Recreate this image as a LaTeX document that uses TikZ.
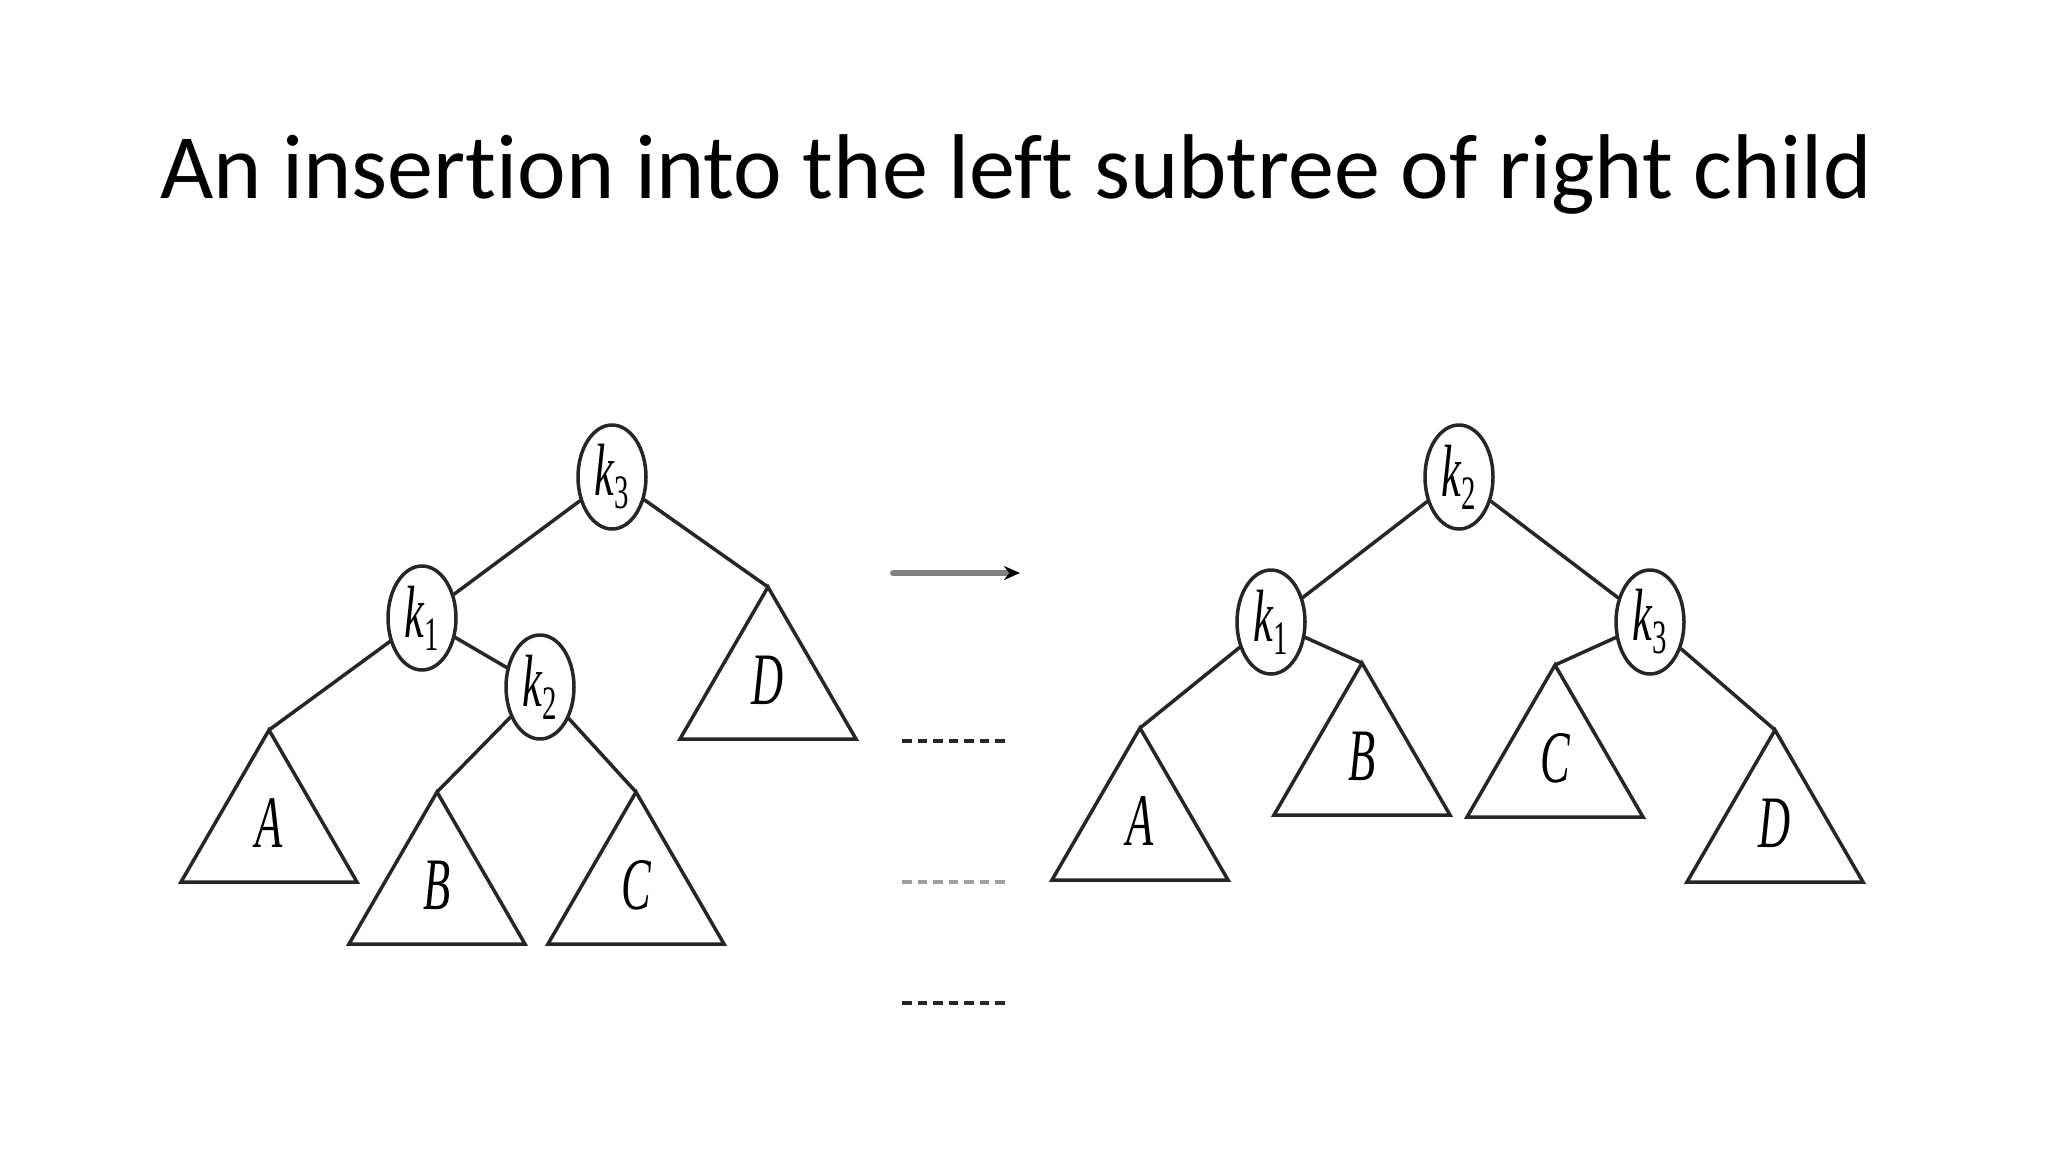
\documentclass[tikz,border=0pt]{standalone}
\usepackage{fontspec}
\usepackage{graphicx}
\setmainfont{Liberation Serif}
\newfontfamily\titlefont[Ligatures=NoCommon]{Carlito}
\usetikzlibrary{arrows.meta,shapes.geometric}

\newcommand{\narrow}[1]{\scalebox{0.6}[1]{#1}}
\newcommand{\kkey}[1]{\narrow{\fontsize{74}{74}\selectfont\itshape k\raisebox{-13pt}{\fontsize{48}{48}\selectfont\upshape #1}}}

\tikzset{
  key/.style={ellipse,draw=black!85,line width=3.5pt,minimum width=68pt,minimum height=104pt,inner sep=0pt},
  edge/.style={draw=black!85,line width=3.5pt},
  sublbl/.style={font=\fontsize{74}{74}\selectfont\itshape,inner sep=0pt}
}

% apex name, apex x, apex y, letter
\newcommand{\subtree}[4]{%
  \coordinate (#1) at (#2,#3);
  \draw[edge,line join=miter] (#1) -- ++(-88,152) -- ++(176,0) -- cycle;
  \node[sublbl] (#1l) at (#2,#3+93) {\narrow{#4}};
}

\begin{document}
\begin{tikzpicture}[x=1pt,y=-1pt,line cap=round]
\useasboundingbox (0,0) rectangle (2048,1152);

\node[font=\titlefont\fontsize{92}{110}\selectfont,anchor=base] (title) at (1016,198)
  {An insertion into the left subtree of right child};

% before
\node[key] (lk3) at (612,477) {\kkey{3}};
\node[key] (lk1) at (422,618) {\kkey{1}};
\node[key] (lk2) at (540,687) {\kkey{2}};
\subtree{lA}{269}{730}{A}
\subtree{lB}{437}{792}{B}
\subtree{lC}{636}{792}{C}
\subtree{lD}{768}{587}{D}
\draw[edge] (lk3) -- (lk1);
\draw[edge] (lk3) -- (lD);
\draw[edge] (lk1) -- (lA);
\draw[edge] (lk1) -- (lk2);
\draw[edge] (lk2) -- (lB);
\draw[edge] (lk2) -- (lC);

% arrow and dashes
\coordinate (arrS) at (893,573);
\coordinate (arrE) at (1020,573);
\draw[line width=6pt,gray,-{Stealth[black,length=16pt,width=14pt]}] (arrS) -- (arrE);
\foreach \y/\c in {741/black!85,882/gray!75,1003/black!85}
  \draw[line width=4.5pt,\c,line cap=butt,dash pattern=on 9.5pt off 6pt] (902,\y) -- (1008,\y);

% after
\node[key] (rk2) at (1459,477) {\kkey{2}};
\node[key] (rk1) at (1271,622) {\kkey{1}};
\node[key] (rk3) at (1650,622) {\kkey{3}};
\subtree{rA}{1140}{728}{A}
\subtree{rB}{1362}{663}{B}
\subtree{rC}{1555}{665}{C}
\subtree{rD}{1775}{730}{D}
\draw[edge] (rk2) -- (rk1);
\draw[edge] (rk2) -- (rk3);
\draw[edge] (rk1) -- (rA);
\draw[edge] (rk1) -- (rB);
\draw[edge] (rk3) -- (rC);
\draw[edge] (rk3) -- (rD);
\end{tikzpicture}
\end{document}
